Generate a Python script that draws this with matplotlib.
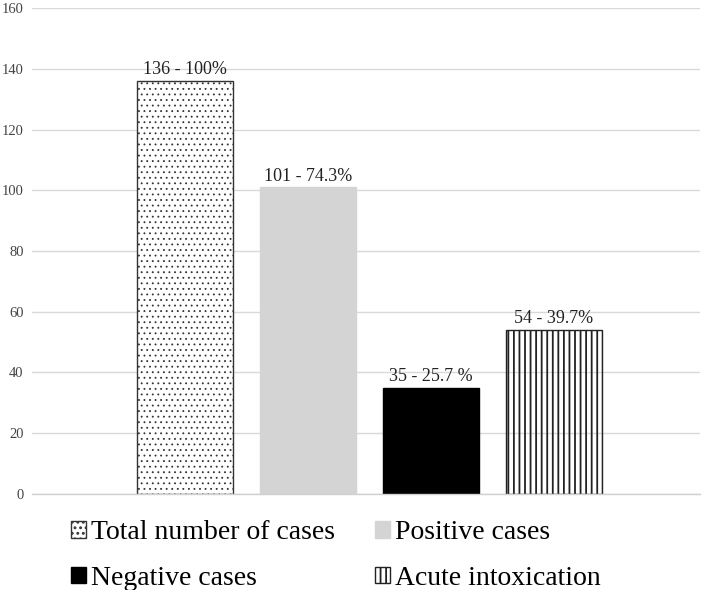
import matplotlib
matplotlib.use("Agg")
import matplotlib.pyplot as plt

plt.rcParams["font.family"] = ["Liberation Serif", "DejaVu Serif"]

series = ["Total number of cases", "Positive cases", "Negative cases", "Acute intoxication"]
values = [136, 101, 35, 54]
labels = ["136 - 100%", "101 - 74.3%", "35 - 25.7 %", "54 - 39.7%"]
yticks = [0, 20, 40, 60, 80, 100, 120, 140, 160]

faces = ["white", "#d4d4d4", "black", "none"]
edges = ["#333333", "#d4d4d4", "black", "#222222"]
hatches = ["...", None, None, "|||"]
hatch_lw = [0.6, 1.0, 1.0, 1.3]

fig = plt.figure(figsize=(7.09, 5.90), dpi=100)
ax = fig.add_axes([0.045, 0.163, 0.942, 0.823])

handles = []
for i, (name, v, lab) in enumerate(zip(series, values, labels)):
    plt.rcParams["hatch.linewidth"] = hatch_lw[i]
    bc = ax.bar(i, v, width=0.78, color=faces[i], edgecolor=edges[i],
                hatch=hatches[i], linewidth=1.0, label=name, zorder=2)
    ax.bar_label(bc, labels=[lab], padding=2, fontsize=13, color="#222222")
    handles.append(bc)

ax.set_xlim(-1.244, 4.187)
ax.set_ylim(0, 160)
ax.set_yticks(yticks)
ax.set_xticks([])
ax.tick_params(axis="y", length=0, labelsize=10.5, labelcolor="#444444", pad=6)
ax.yaxis.grid(True, color="#d9d9d9", lw=1.0, zorder=0)
ax.set_axisbelow(True)
for s in ["top", "right", "left"]:
    ax.spines[s].set_visible(False)
ax.spines["bottom"].set_color("#d0d0d0")
ax.spines["bottom"].set_linewidth(1.0)

# legend fills column by column, so reorder to read row by row
order = [0, 2, 1, 3]
fig.legend(handles=[handles[k] for k in order], labels=[series[k] for k in order],
           loc="upper left", bbox_to_anchor=(0.1, 0.118), ncol=2, frameon=False,
           fontsize=20, handlelength=0.54, handleheight=0.54, borderpad=0,
           borderaxespad=0, handletextpad=0.18, columnspacing=1.45,
           labelspacing=0.74)

fig.savefig("out.png", dpi=100)
